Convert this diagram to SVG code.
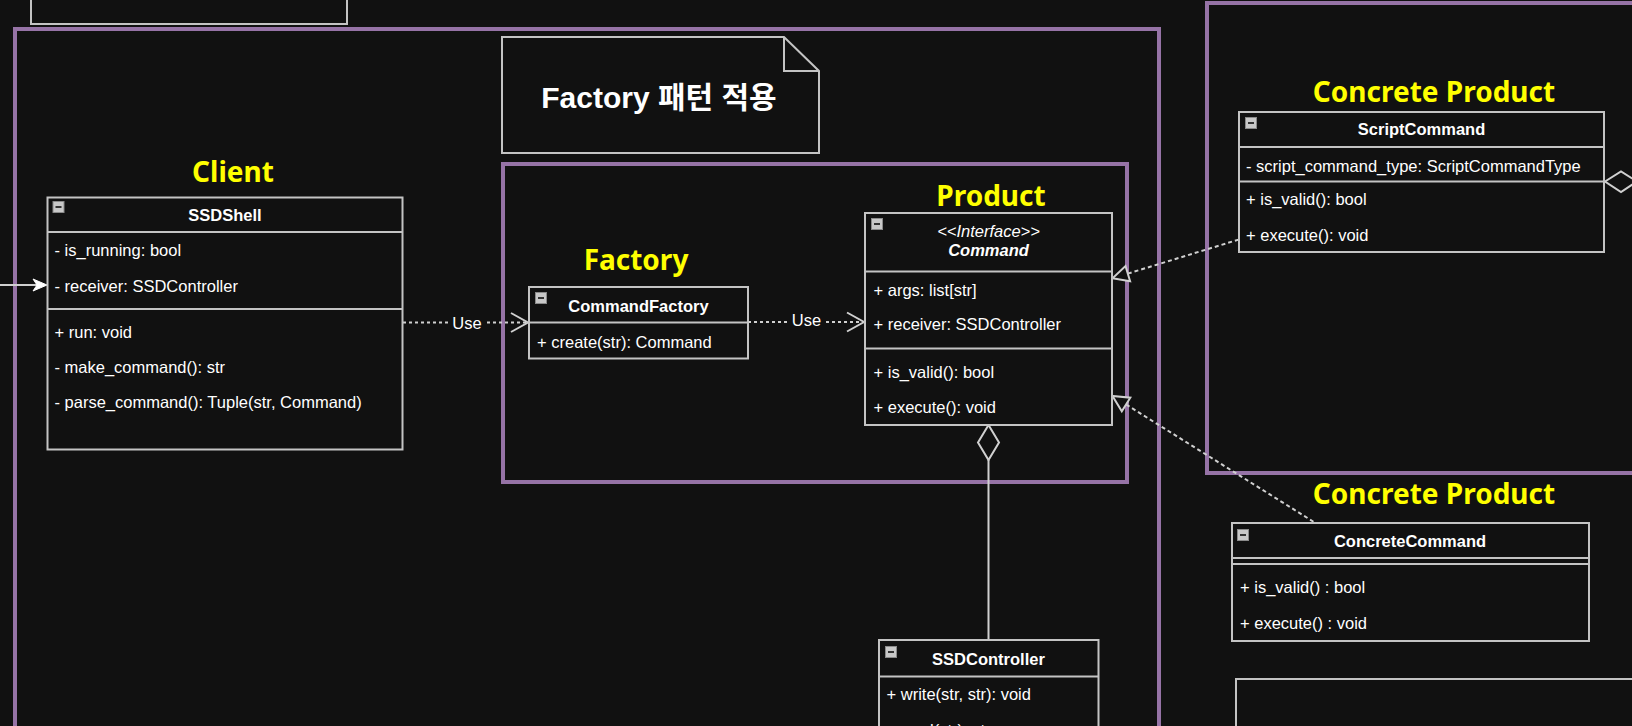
<svg xmlns="http://www.w3.org/2000/svg" width="1632" height="726" viewBox="0 0 1632 726">
<style>
.box{fill:#111111;stroke:#c4c4c4;stroke-width:2}
.div{stroke:#c4c4c4;stroke-width:2;fill:none}
.frame{fill:none;stroke:#9673a6;stroke-width:4}
.t{font-family:"Liberation Sans",Arial,sans-serif;font-size:16.5px;fill:#ffffff}
.b{font-weight:bold}
.i{font-style:italic}
.c{text-anchor:middle}
.lbl{font-family:"Noto Sans","Liberation Sans",sans-serif;font-size:28px;font-weight:bold;fill:#ffff00;text-anchor:middle}
.dash{fill:none;stroke:#d0d0d0;stroke-width:2;stroke-dasharray:3 3}
.dash2{fill:none;stroke:#d0d0d0;stroke-width:2;stroke-dasharray:4 3}
.ln{fill:none;stroke:#d0d0d0;stroke-width:2}
.tri{fill:#111111;stroke:#d0d0d0;stroke-width:2}
.ico{fill:#c8c8c8;stroke:#8a8a8a;stroke-width:1}
.icm{stroke:#333333;stroke-width:2}
</style>
<defs>
<g id="icon"><rect class="ico" x="0.5" y="0.5" width="11" height="11"/><line class="icm" x1="3" y1="6" x2="9" y2="6"/></g>
</defs>
<rect x="0" y="0" width="1632" height="726" fill="#111111"/>

<g id="frames">
<rect class="box" x="31" y="-10" width="316" height="34"/>
<rect class="frame" x="15" y="29" width="1144" height="720"/>
<rect class="frame" x="1207" y="3" width="500" height="470"/>
<rect class="frame" x="503" y="164" width="624" height="318"/>
<rect class="box" x="1236" y="679" width="500" height="100"/>
</g>

<g id="note">
<path class="box" d="M502,37 L784,37 L819,71 L819,153 L502,153 Z"/>
<path class="div" d="M784,37 L784,71 L819,71"/>
<text x="659" y="108" text-anchor="middle" style="font-family:'Liberation Sans','Noto Sans CJK KR',sans-serif;font-size:30px;font-weight:bold;fill:#ffffff">Factory 패턴 적용</text>
</g>

<g id="labels">
<text class="lbl" x="233" y="182">Client</text>
<text class="lbl" x="636" y="270">Factory</text>
<text class="lbl" x="991" y="206">Product</text>
<text class="lbl" x="1434" y="102">Concrete Product</text>
<text class="lbl" x="1434" y="504">Concrete Product</text>
</g>

<g id="connectors">
<line class="ln" x1="0" y1="285" x2="40" y2="285" stroke="#ffffff"/>
<path d="M47,285 L33,279 L37,285 L33,291 Z" fill="#ffffff" stroke="#ffffff" stroke-width="1"/>

<line class="dash" x1="403" y1="322.5" x2="527" y2="322.5"/>
<path class="ln" d="M511,313 L528,322.5 L511,332"/>
<rect x="448" y="312" width="38" height="20" fill="#111111"/>
<text class="t c" x="467" y="328.5">Use</text>

<line class="dash" x1="748" y1="322" x2="863" y2="322"/>
<path class="ln" d="M847,312.5 L864,322 L847,331.5"/>
<rect x="788" y="310" width="37" height="19" fill="#111111"/>
<text class="t c" x="806.5" y="325.5">Use</text>

<line class="dash2" x1="1127.8" y1="273.6" x2="1239" y2="239.5"/>
<path class="tri" d="M1112.5,278.3 L1130.1,281.3 L1125.5,266 Z"/>

<line class="dash2" x1="1126.1" y1="404.5" x2="1315" y2="522.7"/>
<path class="tri" d="M1112.5,396 L1121.8,411.3 L1130.3,397.7 Z"/>

<line class="ln" x1="988.5" y1="460" x2="988.5" y2="640"/>
<path class="tri" d="M988.5,425 L978,442.5 L988.5,460 L999,442.5 Z"/>

<line class="ln" x1="1637" y1="181.5" x2="1700" y2="181.5"/>
<path class="tri" d="M1605,181.5 L1621,171.5 L1637,181.5 L1621,192 Z"/>
</g>

<g id="SSDShell">
<rect class="box" x="47.5" y="197.5" width="355" height="252"/>
<line class="div" x1="47.5" y1="232" x2="402.5" y2="232"/>
<line class="div" x1="47.5" y1="309" x2="402.5" y2="309"/>
<use href="#icon" x="52.5" y="201"/>
<text class="t b c" x="225" y="221">SSDShell</text>
<text class="t" x="54.5" y="256">- is_running: bool</text>
<text class="t" x="54.5" y="291.5">- receiver: SSDController</text>
<text class="t" x="54.5" y="338">+ run: void</text>
<text class="t" x="54.5" y="373">- make_command(): str</text>
<text class="t" x="54.5" y="408">- parse_command(): Tuple(str, Command)</text>
</g>

<g id="CommandFactory">
<rect class="box" x="529" y="287" width="219" height="71.5"/>
<line class="div" x1="529" y1="322.5" x2="748" y2="322.5"/>
<use href="#icon" x="535" y="292"/>
<text class="t b c" x="638.5" y="311.5">CommandFactory</text>
<text class="t" x="537" y="347.5">+ create(str): Command</text>
</g>

<g id="Command">
<rect class="box" x="865" y="213" width="247" height="212"/>
<line class="div" x1="865" y1="271.5" x2="1112" y2="271.5"/>
<line class="div" x1="865" y1="348.5" x2="1112" y2="348.5"/>
<use href="#icon" x="871" y="218"/>
<text class="t i c" x="988.5" y="236.5">&lt;&lt;Interface&gt;&gt;</text>
<text class="t b i c" x="988.5" y="255.5">Command</text>
<text class="t" x="873.5" y="296">+ args: list[str]</text>
<text class="t" x="873.5" y="330">+ receiver: SSDController</text>
<text class="t" x="873.5" y="377.5">+ is_valid(): bool</text>
<text class="t" x="873.5" y="413">+ execute(): void</text>
</g>

<g id="SSDController">
<rect class="box" x="879" y="640" width="219.5" height="120"/>
<line class="div" x1="879" y1="676.5" x2="1098.5" y2="676.5"/>
<use href="#icon" x="885" y="646"/>
<text class="t b c" x="988.5" y="665">SSDController</text>
<text class="t" x="886.5" y="700">+ write(str, str): void</text>
<text class="t" x="886.5" y="736">+ read(str): str</text>
</g>

<g id="ScriptCommand">
<rect class="box" x="1239" y="112" width="365" height="140"/>
<line class="div" x1="1239" y1="147" x2="1604" y2="147"/>
<line class="div" x1="1239" y1="181.5" x2="1604" y2="181.5"/>
<use href="#icon" x="1245" y="117"/>
<text class="t b c" x="1421.5" y="135">ScriptCommand</text>
<text class="t" x="1246" y="171.5">- script_command_type: ScriptCommandType</text>
<text class="t" x="1246" y="205">+ is_valid(): bool</text>
<text class="t" x="1246" y="240.5">+ execute(): void</text>
</g>

<g id="ConcreteCommand">
<rect class="box" x="1232" y="523" width="357" height="118"/>
<line class="div" x1="1232" y1="558" x2="1589" y2="558"/>
<line class="div" x1="1232" y1="564" x2="1589" y2="564"/>
<use href="#icon" x="1237" y="529"/>
<text class="t b c" x="1410" y="547">ConcreteCommand</text>
<text class="t" x="1240" y="593">+ is_valid() : bool</text>
<text class="t" x="1240" y="629">+ execute() : void</text>
</g>
</svg>
